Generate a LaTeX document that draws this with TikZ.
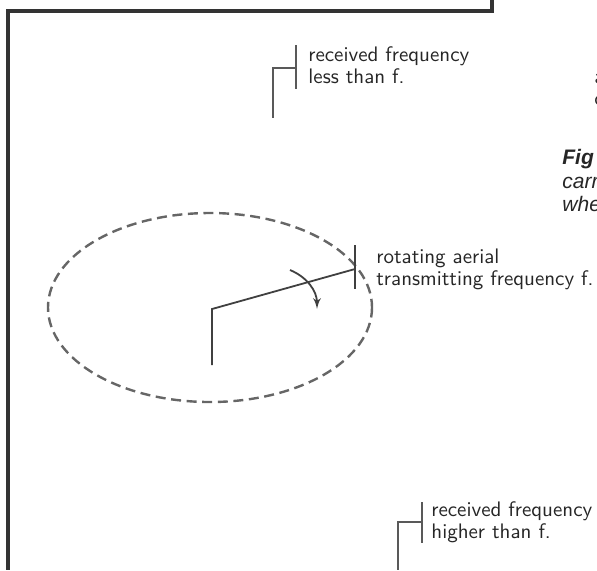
\documentclass[tikz,border=0pt]{standalone}
\usepackage{fontspec}
\newfontfamily\capfont{Liberation Sans}
\usetikzlibrary{arrows,positioning}

\begin{document}
\begin{tikzpicture}[x=0.5pt,y=-0.5pt,>=latex',font=\sffamily\fontsize{10.5}{10.75}\selectfont]
	\tikzstyle{frame} = [draw=black!80, line width=1.8pt, line join=miter]
	\tikzstyle{bracket} = [draw=black!65, line width=0.7pt]
	\tikzstyle{aerial} = [draw=black!75, line width=0.9pt]
	\tikzstyle{orbit} = [draw=black!60, line width=1.2pt, dash pattern=on 5pt off 2.8pt]
	\tikzstyle{note} = [anchor=base west, align=left, inner sep=0pt, text=black!85]
	\tikzstyle{figtext} = [anchor=base west, inner sep=0pt, text=black!85]
	
	\useasboundingbox (0,0) rectangle (597,570);
	
	% frame of the page
	\coordinate (frameTop) at (492,0);
	\coordinate (frameCorner) at (492,11);
	\coordinate (frameLeft) at (8,11);
	\coordinate (frameBottom) at (8,570);
	\draw [frame] (frameTop) -- (frameCorner) -- (frameLeft) -- (frameBottom);
	
	% path of the aerial
	\draw [orbit] (210,307.5) ellipse [x radius=162, y radius=94.5];
	
	\coordinate (mastFoot) at (212,365);
	\coordinate (hub) at (212,309);
	\coordinate (tip) at (355,269);
	\coordinate (barTop) at (355,245);
	\coordinate (barBottom) at (355,289);
	\coordinate (turnStart) at (290,270);
	\coordinate (turnEnd) at (317,309);
	
	\draw [aerial] (mastFoot) -- (hub) -- (tip);
	\draw [aerial] (barTop) -- (barBottom);
	\draw [aerial, ->] (turnStart) .. controls (307,277) and (317,291) .. (turnEnd);
	
	% base of the last line
	\node [note] (aerialNote) at (376,285) {rotating aerial\\transmitting frequency f.};
	
	% receiver, low side
	\coordinate (lowTop) at (296,45);
	\coordinate (lowBottom) at (296,89);
	\coordinate (lowJoin) at (296,68);
	\coordinate (lowCorner) at (273,68);
	\coordinate (lowFoot) at (273,118);
	\draw [bracket] (lowTop) -- (lowBottom);
	\draw [bracket] (lowJoin) -- (lowCorner) -- (lowFoot);
	\node [note] (lowNote) at (308,83) {received frequency\\less than f.};
	
	% receiver, high side
	\coordinate (highTop) at (422,502);
	\coordinate (highBottom) at (422,543);
	\coordinate (highJoin) at (422,522);
	\coordinate (highCorner) at (398,522);
	\coordinate (highFoot) at (398,570);
	\draw [bracket] (highTop) -- (highBottom);
	\draw [bracket] (highJoin) -- (highCorner) -- (highFoot);
	\node [note] (highNote) at (431,538) {received frequency\\higher than f.};
	
	% cut off text at the right edge
	\node [note] (edgeA) at (594,83) {a};
	\node [note] (edgeC) at (594,105) {c};
	\node [figtext, font=\capfont\bfseries\itshape\fontsize{10.5}{10.5}\selectfont] (figTitle) at (562,164) {Fig};
	\node [figtext, font=\capfont\itshape\fontsize{10.5}{10.5}\selectfont] (figLineOne) at (562,188) {carr};
	\node [figtext, font=\capfont\itshape\fontsize{10.5}{10.5}\selectfont] (figLineTwo) at (562,211) {whe};
	
\end{tikzpicture}
\end{document}
